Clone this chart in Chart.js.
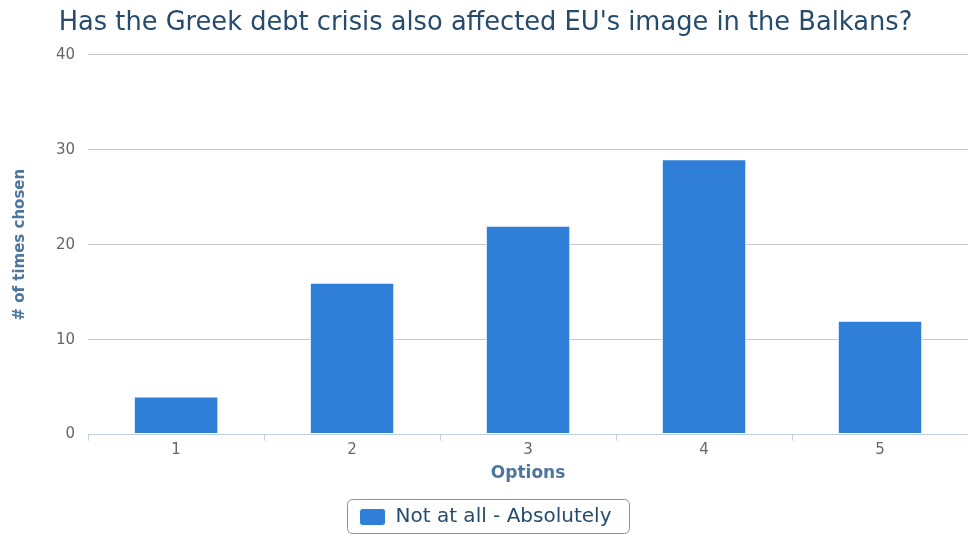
<!DOCTYPE html>
<html>
<head>
<meta charset="utf-8">
<script src="https://cdn.jsdelivr.net/npm/chart.js@4"></script>
<style>
  html, body { margin: 0; padding: 0; background: #fff; }
  #wrap { width: 968px; height: 534px; }
</style>
</head>
<body>
<div id="wrap"><canvas id="chart"></canvas></div>
<script>
const options = ['1', '2', '3', '4', '5'];
const timesChosen = [4, 16, 22, 29, 12];
const yTicks = [0, 10, 20, 30, 40];

const titleText = "Has the Greek debt crisis also affected EU's image in the Balkans?";
const seriesName = 'Not at all - Absolutely';

// rounded frame around the legend item
const legendFrame = {
    id: 'legendFrame',
    afterDraw(chart) {
        const hb = chart.legend.legendHitBoxes[0];
        if (!hb) return;
        const ctx = chart.ctx;
        ctx.save();
        ctx.strokeStyle = '#909090';
        ctx.lineWidth = 1;
        ctx.beginPath();
        ctx.roundRect(Math.round(hb.left) - 12.5, Math.round(hb.top) - 7.5, Math.round(hb.width) + 30, Math.round(hb.height) + 14, 5);
        ctx.stroke();
        ctx.restore();
    }
};

const CHART = document.getElementById('chart');
const surveyChart = new Chart(CHART, {
    type: 'bar',
    data: {
        labels: options,
        datasets: [{
            label: seriesName,
            data: timesChosen,
            backgroundColor: '#2f7ed8',
            borderColor: '#ffffff',
            borderWidth: 1,
            borderSkipped: false,
            categoryPercentage: 1,
            barPercentage: 0.48
        }]
    },
    options: {
        responsive: true,
        maintainAspectRatio: false,
        animation: false,
        // legend box sits right on the bottom edge
        layout: { padding: { top: 0, right: 0, bottom: -3, left: 3 } },
        plugins: {
            title: {
                display: true,
                text: titleText,
                color: '#274b6d',
                font: { family: 'DejaVu Sans', size: 25.7, weight: 'normal' },
                padding: { top: 8, bottom: 16 }
            },
            legend: {
                position: 'bottom',
                labels: {
                    color: '#274b6d',
                    font: { family: 'DejaVu Sans', size: 20 },
                    boxWidth: 26,
                    boxHeight: 17,
                    useBorderRadius: true,
                    borderRadius: 3,
                    padding: 3
                }
            },
            tooltip: { enabled: false }
        },
        scales: {
            x: {
                grid: {
                    offset: true,
                    drawOnChartArea: false,
                    drawTicks: true,
                    tickLength: 6,
                    color: '#c0d0e0'
                },
                border: { color: '#c0d0e0' },
                ticks: {
                    color: '#666666',
                    font: { family: 'DejaVu Sans', size: 15 },
                    padding: 1
                },
                title: {
                    display: true,
                    text: 'Options',
                    color: '#4d759e',
                    font: { family: 'DejaVu Sans', size: 17, weight: 'bold' },
                    padding: { top: 3, bottom: 20 }
                }
            },
            y: {
                min: 0,
                max: 40,
                afterBuildTicks: axis => { axis.ticks = yTicks.map(v => ({ value: v })); },
                grid: {
                    color: '#c8c8c8',
                    drawTicks: false
                },
                border: { display: false },
                ticks: {
                    color: '#666666',
                    font: { family: 'DejaVu Sans', size: 15 },
                    padding: 13
                },
                title: {
                    display: true,
                    text: '# of times chosen',
                    color: '#4d759e',
                    font: { family: 'DejaVu Sans', size: 15, weight: 'bold' },
                    padding: { top: 8, bottom: 14 }
                }
            }
        }
    },
    plugins: [legendFrame]
});
</script>
</body>
</html>
